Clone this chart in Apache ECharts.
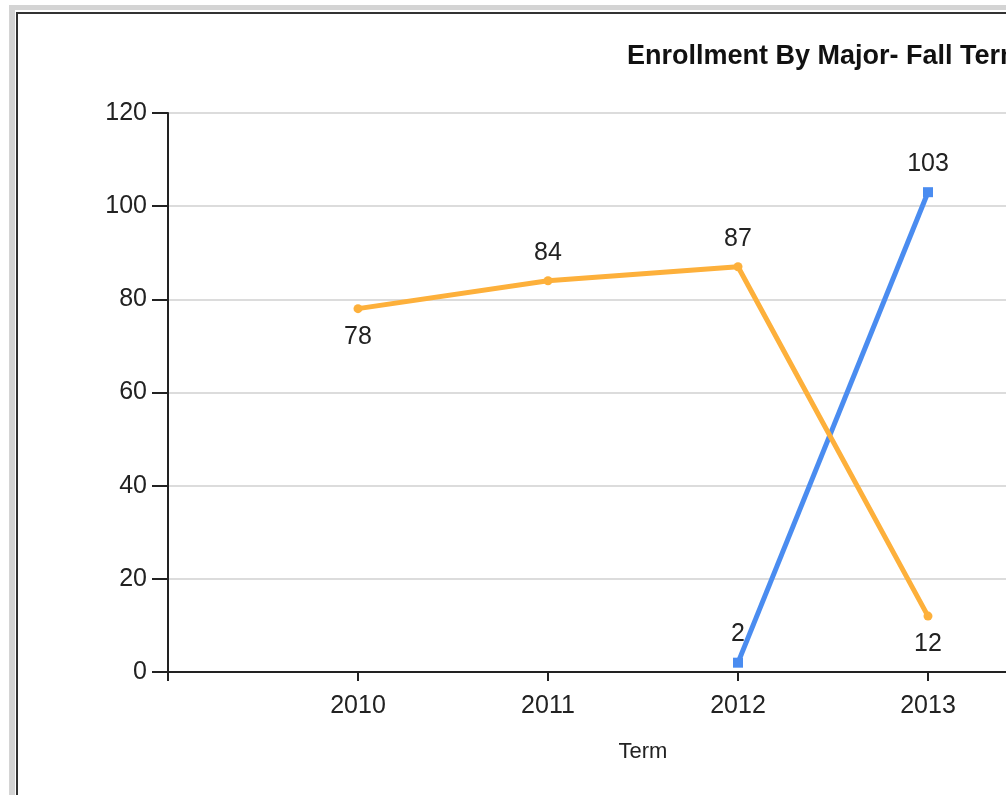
<!DOCTYPE html>
<html>
<head>
<meta charset="utf-8">
<script src="https://cdn.jsdelivr.net/npm/echarts@6/dist/echarts.min.js"></script>
<style>
html,body{margin:0;padding:0;background:#fff;}
#c{width:1006px;height:795px;}
</style>
</head>
<body>
<div id="c"></div>
<script>
var titleText = 'Enrollment By Major- Fall Term';
var xName = 'Term';
var terms = [2010, 2011, 2012, 2013];
var seriesOrange = [78, 84, 87, 12];
var blueTerms = [2012, 2013];
var seriesBlue = [2, 103];
var orangeLabelPos = ['bottom', 'top', 'top', 'bottom'];

var FONT = "'Liberation Sans', Arial, sans-serif";
var chart = echarts.init(document.getElementById('c'));

var orangeData = terms.map(function (t, i) {
  return { value: [t, seriesOrange[i]], label: { position: orangeLabelPos[i] } };
});
var blueData = blueTerms.map(function (t, i) {
  return { value: [t, seriesBlue[i]] };
});

chart.setOption({
  animation: false,
  backgroundColor: '#fff',
  title: {
    text: titleText,
    left: 622,
    top: 38,
    textStyle: { fontFamily: FONT, fontSize: 27, fontWeight: 'bold', color: '#111' }
  },
  graphic: [
    { type: 'rect', shape: { x: 9, y: 5, width: 1100, height: 5 }, style: { fill: '#d4d4d4' }, z: 100 },
    { type: 'rect', shape: { x: 9, y: 5, width: 6, height: 900 }, style: { fill: '#d4d4d4' }, z: 100 },
    { type: 'rect', shape: { x: 16, y: 12, width: 1100, height: 2 }, style: { fill: '#333' }, z: 100 },
    { type: 'rect', shape: { x: 16, y: 12, width: 2, height: 900 }, style: { fill: '#333' }, z: 100 }
  ],
  grid: { left: 168, top: 113, width: 950, height: 559, containLabel: false, outerBoundsMode: 'none' },
  xAxis: {
    type: 'value',
    min: 2009,
    max: 2014,
    interval: 1,
    name: xName,
    nameLocation: 'middle',
    nameGap: 69,
    nameTextStyle: { fontFamily: FONT, fontSize: 22, color: '#222' },
    axisLine: { show: true, onZero: false, lineStyle: { color: '#222', width: 2 } },
    axisTick: { show: true, length: 9, lineStyle: { color: '#222', width: 2 } },
    axisLabel: {
      fontFamily: FONT, fontSize: 25, color: '#222', margin: 22,
      formatter: function (v) { return (v < 2010 || v > 2013) ? '' : String(v); }
    },
    splitLine: { show: false }
  },
  yAxis: {
    type: 'value',
    min: 0,
    max: 120,
    interval: 20,
    axisLine: { show: true, lineStyle: { color: '#222', width: 2 } },
    axisTick: { show: true, length: 16, lineStyle: { color: '#222', width: 2 } },
    axisLabel: { fontFamily: FONT, fontSize: 25, color: '#222', margin: 21 },
    splitLine: { show: true, lineStyle: { color: '#dcdcdc', width: 2 } }
  },
  series: [
    {
      type: 'line',
      data: blueData,
      symbol: 'rect',
      symbolSize: 10,
      lineStyle: { color: '#4a8cf0', width: 5 },
      itemStyle: { color: '#4a8cf0' },
      label: { show: true, position: 'top', distance: 11, fontFamily: FONT, fontSize: 25, color: '#222',
        formatter: function (p) { return p.value[1]; } },
      z: 2
    },
    {
      type: 'line',
      data: orangeData,
      symbol: 'circle',
      symbolSize: 9,
      lineStyle: { color: '#fdb03b', width: 5 },
      itemStyle: { color: '#fdb03b' },
      label: { show: true, distance: 11, fontFamily: FONT, fontSize: 25, color: '#222',
        formatter: function (p) { return p.value[1]; } },
      z: 3
    }
  ]
});
</script>
</body>
</html>
